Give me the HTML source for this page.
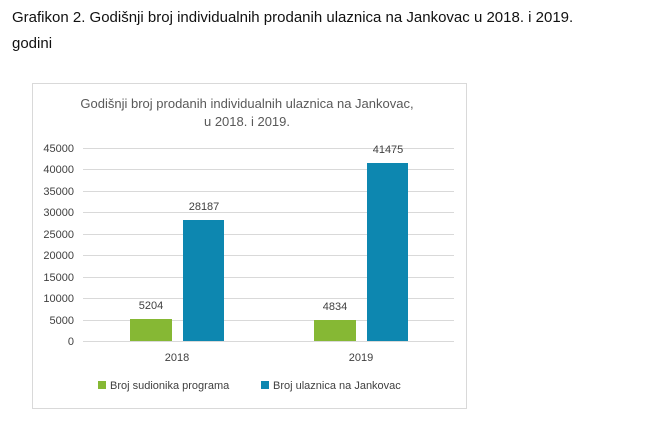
<!DOCTYPE html>
<html><head><meta charset="utf-8"><style>
body{margin:0;width:649px;height:421px;background:#fff;overflow:hidden;font-family:"Liberation Sans",sans-serif}
.h{position:absolute;left:12px;font-size:15px;color:#111}
</style></head><body>
<div class="h" style="top:9px">Grafikon 2. Godišnji broj individualnih prodanih ulaznica na Jankovac u 2018. i 2019.</div>
<div class="h" style="top:35px">godini</div>
<svg width="649" height="421" style="position:absolute;left:0;top:0" font-family="'Liberation Sans',sans-serif">
<rect x="32.5" y="83.5" width="434" height="325" fill="#fff" stroke="#d9d9d9"/>
<text x="247" y="108" text-anchor="middle" font-size="13" fill="#595959">Godišnji broj prodanih individualnih ulaznica na Jankovac,</text>
<text x="247" y="126" text-anchor="middle" font-size="13" fill="#595959">u 2018. i 2019.</text>
<g stroke="#d9d9d9" stroke-width="1">
<line x1="83" x2="454" y1="148.5" y2="148.5"/><line x1="83" x2="454" y1="169.5" y2="169.5"/>
<line x1="83" x2="454" y1="191.5" y2="191.5"/><line x1="83" x2="454" y1="212.5" y2="212.5"/>
<line x1="83" x2="454" y1="234.5" y2="234.5"/><line x1="83" x2="454" y1="255.5" y2="255.5"/>
<line x1="83" x2="454" y1="277.5" y2="277.5"/><line x1="83" x2="454" y1="298.5" y2="298.5"/>
<line x1="83" x2="454" y1="320.5" y2="320.5"/><line x1="83" x2="454" y1="341.5" y2="341.5"/>
</g>
<g font-size="11" fill="#404040" text-anchor="end">
<text x="74" y="152">45000</text><text x="74" y="173">40000</text><text x="74" y="195">35000</text>
<text x="74" y="216">30000</text><text x="74" y="238">25000</text><text x="74" y="259">20000</text>
<text x="74" y="281">15000</text><text x="74" y="302">10000</text><text x="74" y="324">5000</text>
<text x="74" y="345">0</text>
</g>
<rect x="130" y="319" width="42" height="22" fill="#86b834"/>
<rect x="183" y="220" width="41" height="121" fill="#0d87b0"/>
<rect x="314" y="320" width="42" height="21" fill="#86b834"/>
<rect x="367" y="163" width="41" height="178" fill="#0d87b0"/>
<g font-size="11" fill="#404040" text-anchor="middle">
<text x="151" y="309">5204</text><text x="204" y="210">28187</text>
<text x="335" y="310">4834</text><text x="388" y="153">41475</text>
<text x="177" y="361">2018</text><text x="361" y="361">2019</text>
</g>
<rect x="98" y="381" width="8" height="8" fill="#86b834"/>
<text x="110" y="389" font-size="11" fill="#404040">Broj sudionika programa</text>
<rect x="261" y="381" width="8" height="8" fill="#0d87b0"/>
<text x="273" y="389" font-size="11" fill="#404040">Broj ulaznica na Jankovac</text>
</svg>
</body></html>
